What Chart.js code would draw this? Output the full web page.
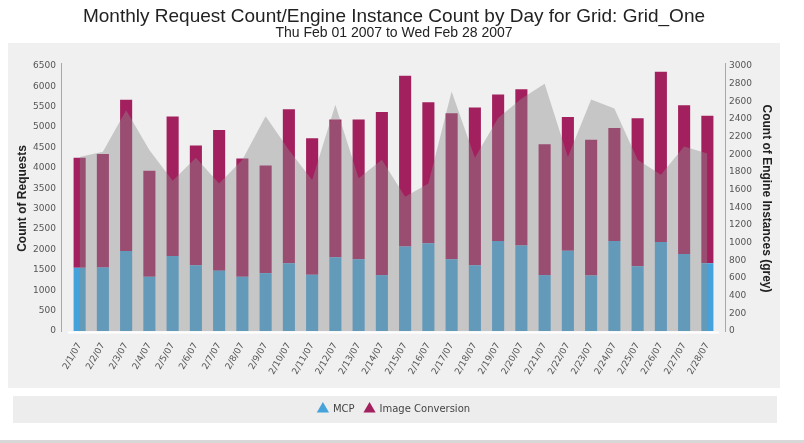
<!DOCTYPE html>
<html>
<head>
<meta charset="utf-8">
<script src="https://cdn.jsdelivr.net/npm/chart.js@4.4.1/dist/chart.umd.min.js"></script>
<style>
  html, body { margin: 0; padding: 0; background: #ffffff; }
  #wrap { width: 804px; height: 443px; }
</style>
</head>
<body>
<div id="wrap"><canvas id="c" width="804" height="443"></canvas></div>
<script>
const days = ['2/1/07','2/2/07','2/3/07','2/4/07','2/5/07','2/6/07','2/7/07','2/8/07','2/9/07','2/10/07',
  '2/11/07','2/12/07','2/13/07','2/14/07','2/15/07','2/16/07','2/17/07','2/18/07','2/19/07','2/20/07',
  '2/21/07','2/22/07','2/23/07','2/24/07','2/25/07','2/26/07','2/27/07','2/28/07'];
const mcp = [1550,1560,1960,1330,1840,1610,1480,1330,1420,1660,1380,1810,1760,1370,2070,2150,1760,1610,2210,2100,
  1370,1970,1360,2210,1590,2180,1890,1660];
const imageConversion = [2700,2780,3710,2600,3420,2940,3450,2900,2640,3780,3350,3380,3430,4000,4190,3460,3580,3870,3590,3830,
  3210,3280,3330,2770,3630,4180,3650,3620];
const engineInstances = [1970,2030,2500,2050,1700,1960,1670,1940,2430,2050,1710,2560,1730,1940,1520,1670,2710,1960,2410,2630,
  2800,1970,2620,2520,1940,1770,2090,2010];
const requestTicks = {min: 0, max: 6500, step: 500};
const engineTicks = {min: 0, max: 3000, step: 200};

const FONT = "'DejaVu Sans', Verdana, sans-serif";
const AFONT = "'Liberation Sans', Arial, sans-serif";

const panels = {
  id: 'panels',
  beforeDraw(chart) {
    const ctx = chart.ctx;
    ctx.save();
    ctx.fillStyle = '#ffffff';
    ctx.fillRect(0, 0, chart.width, chart.height);
    ctx.fillStyle = '#f0f0f0';
    ctx.fillRect(8, 43, 772, 345);
    ctx.fillStyle = '#ededed';
    ctx.fillRect(13, 396, 764, 27);
    ctx.fillStyle = '#d8d8d8';
    ctx.fillRect(0, 440, chart.width, 3);
    ctx.restore();
  },
  afterDraw(chart) {
    const ctx = chart.ctx, a = chart.chartArea;
    ctx.save();
    ctx.strokeStyle = '#a8a8a8';
    ctx.lineWidth = 1;
    ctx.beginPath();
    ctx.moveTo(a.left - 6.5, a.top - 3); ctx.lineTo(a.left - 6.5, a.bottom + 1);
    ctx.moveTo(a.right + 6.5, a.top - 3); ctx.lineTo(a.right + 6.5, a.bottom + 1);
    ctx.stroke();
    ctx.strokeStyle = '#ffffff';
    ctx.lineWidth = 2;
    ctx.beginPath();
    ctx.moveTo(a.left, a.bottom + 1.5); ctx.lineTo(a.right, a.bottom + 1.5);
    ctx.stroke();
    ctx.restore();
  }
};

const plain = (v) => String(v);

new Chart(document.getElementById('c'), {
  data: {
    labels: days,
    datasets: [
      {
        type: 'line', label: 'Engine Instances', data: engineInstances, yAxisID: 'y2',
        fill: 'origin', backgroundColor: 'rgba(140,140,140,0.42)', borderWidth: 0,
        pointRadius: 0, tension: 0, order: 0
      },
      {
        type: 'bar', label: 'MCP', data: mcp, yAxisID: 'y', backgroundColor: '#45a2da',
        borderWidth: 0, pointStyle: 'triangle', order: 1, stack: 'req',
        categoryPercentage: 1, barPercentage: 0.52
      },
      {
        type: 'bar', label: 'Image Conversion', data: imageConversion, yAxisID: 'y', backgroundColor: '#a3205e',
        borderWidth: 0, pointStyle: 'triangle', order: 2, stack: 'req',
        categoryPercentage: 1, barPercentage: 0.52
      }
    ]
  },
  plugins: [panels],
  options: {
    responsive: false,
    animation: false,
    layout: { padding: { left: 8, right: 24, top: 0, bottom: 19 } },
    plugins: {
      title: {
        display: true, text: 'Monthly Request Count/Engine Instance Count by Day for Grid: Grid_One',
        color: '#222', font: { family: AFONT, size: 19, weight: 'normal', lineHeight: 1 },
        padding: { top: 7, bottom: 0 }
      },
      subtitle: {
        display: true, text: 'Thu Feb 01 2007 to Wed Feb 28 2007',
        color: '#222', font: { family: AFONT, size: 14, weight: 'normal', lineHeight: 1 },
        padding: { top: 0, bottom: 26 }
      },
      legend: {
        position: 'bottom',
        labels: {
          usePointStyle: true, color: '#444', padding: 10,
          font: { family: FONT, size: 10 },
          filter: (item) => item.text !== 'Engine Instances'
        }
      },
      tooltip: { enabled: false }
    },
    scales: {
      x: {
        stacked: true, offset: true,
        grid: { display: false, drawTicks: false },
        border: { display: false },
        ticks: { autoSkip: false, minRotation: 60, maxRotation: 60, padding: 10, color: '#555',
          font: { family: FONT, size: 9 } },
        afterFit: (s) => { s.height = 63; }
      },
      y: {
        position: 'left', stacked: true, min: requestTicks.min, max: requestTicks.max,
        grid: { display: false, drawTicks: false },
        border: { display: false },
        ticks: { stepSize: requestTicks.step, padding: 12, color: '#555', font: { family: FONT, size: 9 },
          callback: plain },
        title: { display: true, text: 'Count of Requests', color: '#222',
          font: { family: AFONT, size: 12, weight: 'bold' }, padding: { top: 7, bottom: 0 } },
        afterFit: (s) => { s.width = 60; }
      },
      y2: {
        position: 'right', stacked: false, min: engineTicks.min, max: engineTicks.max,
        grid: { display: false, drawTicks: false },
        border: { display: false },
        ticks: { stepSize: engineTicks.step, padding: 10, color: '#555', font: { family: FONT, size: 9 },
          callback: plain },
        title: { display: true, text: 'Count of Engine Instances (grey)', color: '#222',
          font: { family: AFONT, size: 12, weight: 'bold' }, padding: { top: 6, bottom: 0 } },
        afterFit: (s) => { s.width = 61; }
      }
    }
  }
});
</script>
</body>
</html>
